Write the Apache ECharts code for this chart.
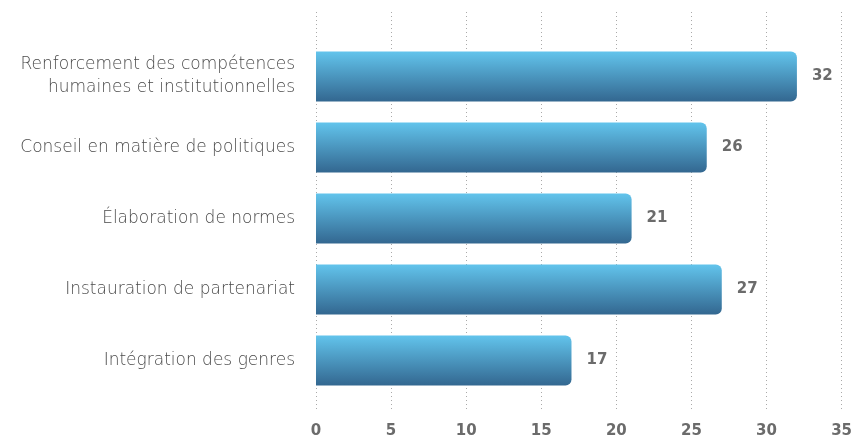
<!DOCTYPE html>
<html>
<head>
<meta charset="utf-8">
<script src="https://cdn.jsdelivr.net/npm/echarts@6/dist/echarts.min.js"></script>
<style>
html, body { margin: 0; padding: 0; background: #fff; }
#chart { width: 855px; height: 440px; }
</style>
</head>
<body>
<div id="chart"></div>
<script>
const categories = [
  'Renforcement des compétences\nhumaines et institutionnelles',
  'Conseil en matière de politiques',
  'Élaboration de normes',
  'Instauration de partenariat',
  'Intégration des genres'
]
const values = [32, 26, 21, 27, 17]
const xTicks = [0, 5, 10, 15, 20, 25, 30, 35]

const labelFont = '"DejaVu Sans", "Open Sans", sans-serif'
const numFont = '"DejaVu Sans", "Open Sans", sans-serif'
const barColor = {
  type: 'linear',
  x: 0, y: 0, x2: 0, y2: 1,
  colorStops: [
    {offset: 0, color: '#62c4ec'},
    {offset: 1, color: '#336790'}
  ]
}

const chart = echarts.init(document.getElementById('chart'))
chart.setOption({
  animation: false,
  grid: [
    // bars
    {left: 316, right: 13, top: 41, height: 355},
    // dotted grid lines and tick labels
    {left: 316, right: 13, top: 12, height: 397}
  ],
  xAxis: [
    {
      gridIndex: 0, type: 'value', min: 0, max: xTicks[xTicks.length - 1], interval: 5,
      axisLine: {show: false}, axisTick: {show: false},
      axisLabel: {show: false}, splitLine: {show: false}
    },
    {
      gridIndex: 1, type: 'value', min: 0, max: xTicks[xTicks.length - 1], interval: 5,
      axisLine: {show: false}, axisTick: {show: false},
      axisLabel: {color: '#6b6b6b', fontFamily: numFont, fontWeight: 'bold', fontSize: 15, margin: 15},
      splitLine: {lineStyle: {type: [1, 3], color: '#aaa', width: 1}}
    }
  ],
  yAxis: [
    {
      gridIndex: 0, type: 'category', data: categories, inverse: true,
      axisLine: {show: false}, axisTick: {show: false},
      axisLabel: {color: '#4a4a4a', fontFamily: labelFont, fontWeight: 200, fontSize: 17, margin: 21, lineHeight: 23, align: 'right'}
    },
    {
      gridIndex: 1, type: 'value', show: false
    }
  ],
  series: [{
    type: 'bar',
    xAxisIndex: 0,
    yAxisIndex: 0,
    data: values,
    barWidth: 50,
    itemStyle: {color: barColor, borderRadius: [0, 6, 6, 0]},
    label: {
      show: true, position: 'right', distance: 15,
      color: '#6b6b6b', fontFamily: numFont, fontWeight: 'bold', fontSize: 15
    }
  }]
})
</script>
</body>
</html>
